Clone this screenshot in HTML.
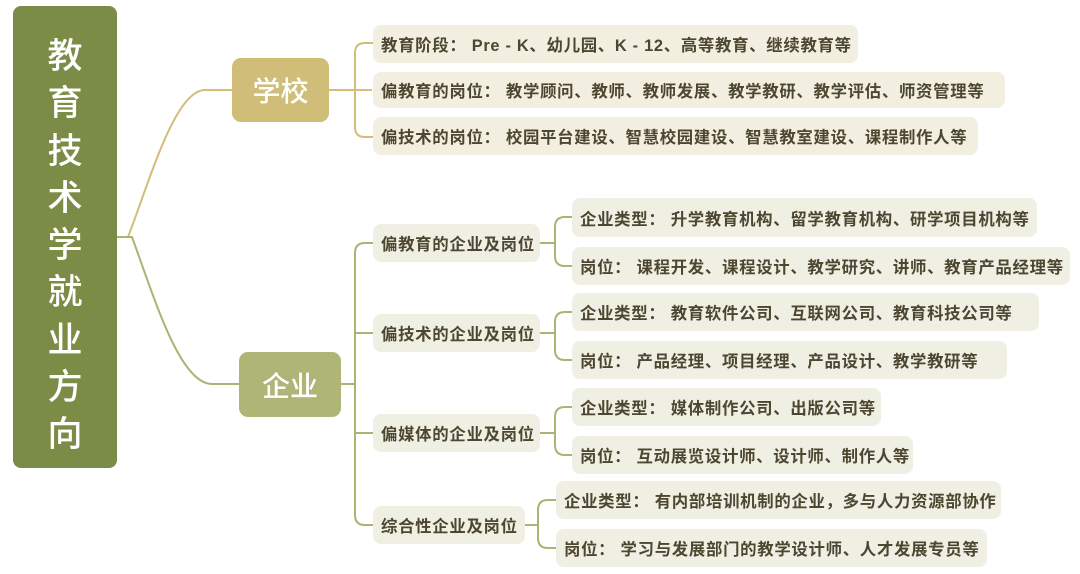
<!DOCTYPE html>
<html><head><meta charset="utf-8"><style>
html,body{margin:0;padding:0;background:#fff;}
body{width:1080px;height:574px;position:relative;overflow:hidden;font-family:"Liberation Sans","Noto Sans CJK SC",sans-serif;}
.b{position:absolute;box-sizing:border-box;border-radius:8px;font-size:16.4px;font-weight:700;color:#4d4630;display:flex;align-items:center;padding-left:8px;white-space:nowrap;letter-spacing:0.7px;}
.s{background:#f3efe0;}
.e{background:#eff0e3;}
.root{position:absolute;left:13px;top:6px;width:104px;height:462px;background:#7a8c46;border-radius:8px;color:#fff;font-family:"Noto Sans CJK SC",sans-serif;font-weight:500;font-size:35px;text-align:center;line-height:47.3px;padding-top:24px;box-sizing:border-box;}
.l1{position:absolute;border-radius:9px;color:#fff;font-family:"Noto Sans CJK SC",sans-serif;font-weight:500;font-size:28px;display:flex;align-items:center;justify-content:center;}
</style></head><body>
<svg width="1080" height="574" style="position:absolute;left:0;top:0" fill="none" stroke-width="2">
<g stroke="#d2bd79">
<path d="M117 237 H128 C150 180 175 90 205 90 H232"/>
<path d="M329 90 H372"/>
<path d="M373 43 H365 Q355 43 355 53 V127 Q355 137 365 137 H373"/>
</g>
<g stroke="#aab574">
<path d="M117 237 H132 C155 300 180 384 212 384 H239"/>
<path d="M341 384 H355"/>
<path d="M373 243 H365 Q355 243 355 253 V515 Q355 525 365 525 H373"/>
<path d="M355 333 H373 M355 433 H373"/>
<path d="M540 243 H555 M572 217 H565 Q555 217 555 227 V256 Q555 266 565 266 H572"/>
<path d="M540 333 H555 M572 312 H565 Q555 312 555 322 V350 Q555 360 565 360 H572"/>
<path d="M540 433 H555 M572 407 H565 Q555 407 555 417 V445 Q555 455 565 455 H572"/>
<path d="M525 525 H538 M556 500 H548 Q538 500 538 510 V538 Q538 548 548 548 H556"/>
</g>
</svg>
<div class="root">教<br>育<br>技<br>术<br>学<br>就<br>业<br>方<br>向</div>
<div class="l1" style="left:232px;top:58px;width:97px;height:64px;background:#cfbd78;">学校</div>
<div class="l1" style="left:239px;top:352px;width:102px;height:65px;background:#afb577;">企业</div>

<div class="b s" style="left:373px;top:25px;width:485px;height:38px;">教育阶段： Pre - K、幼儿园、K - 12、高等教育、继续教育等</div>
<div class="b s" style="left:373px;top:72px;width:632px;height:36px;">偏教育的岗位： 教学顾问、教师、教师发展、教学教研、教学评估、师资管理等</div>
<div class="b s" style="left:373px;top:117px;width:605px;height:38px;">偏技术的岗位： 校园平台建设、智慧校园建设、智慧教室建设、课程制作人等</div>

<div class="b e" style="left:373px;top:224px;width:167px;height:38px;">偏教育的企业及岗位</div>
<div class="b e" style="left:373px;top:314px;width:167px;height:38px;">偏技术的企业及岗位</div>
<div class="b e" style="left:373px;top:414px;width:167px;height:38px;">偏媒体的企业及岗位</div>
<div class="b e" style="left:373px;top:506px;width:152px;height:38px;">综合性企业及岗位</div>

<div class="b e" style="left:572px;top:198px;width:465px;height:39px;">企业类型： 升学教育机构、留学教育机构、研学项目机构等</div>
<div class="b e" style="left:572px;top:247px;width:498px;height:38px;">岗位： 课程开发、课程设计、教学研究、讲师、教育产品经理等</div>
<div class="b e" style="left:572px;top:293px;width:467px;height:38px;">企业类型： 教育软件公司、互联网公司、教育科技公司等</div>
<div class="b e" style="left:572px;top:341px;width:435px;height:38px;">岗位： 产品经理、项目经理、产品设计、教学教研等</div>
<div class="b e" style="left:572px;top:388px;width:309px;height:38px;">企业类型： 媒体制作公司、出版公司等</div>
<div class="b e" style="left:572px;top:436px;width:341px;height:38px;">岗位： 互动展览设计师、设计师、制作人等</div>
<div class="b e" style="left:556px;top:481px;width:445px;height:38px;">企业类型： 有内部培训机制的企业，多与人力资源部协作</div>
<div class="b e" style="left:556px;top:529px;width:431px;height:38px;">岗位： 学习与发展部门的教学设计师、人才发展专员等</div>
</body></html>
